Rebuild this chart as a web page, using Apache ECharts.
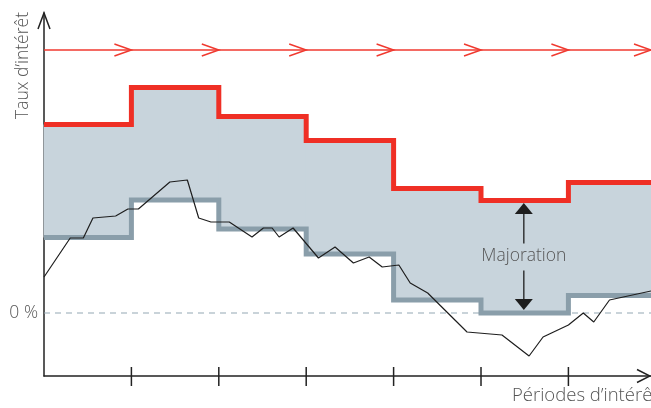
<!DOCTYPE html>
<html>
<head>
<meta charset="utf-8">
<script src="https://cdn.jsdelivr.net/npm/echarts@6/dist/echarts.min.js"></script>
<style>
html,body{margin:0;padding:0;background:#fff;}
#chart{width:651px;height:408px;}
</style>
</head>
<body>
<div id="chart"></div>
<script>
// ---- data ----
const periodStarts = [0, 1, 2, 3, 4, 5, 6];
const periodEnd = 6.945;
const upperRate = [3.77, 4.51, 3.93, 3.45, 2.49, 2.25, 2.61];
const lowerRate = [1.51, 2.26, 1.68, 1.18, 0.26, 0.00, 0.35];
const marketX = [0, 0.30, 0.45, 0.56, 0.82, 0.96, 1.08, 1.44, 1.64, 1.77, 1.91, 2.12, 2.38, 2.51, 2.61, 2.69, 2.85, 3.14, 3.33, 3.54, 3.72, 3.87, 4.06, 4.19, 4.39, 4.84, 5.24, 5.55, 5.71, 6.00, 6.17, 6.29, 6.47, 6.945];
const marketY = [0.72, 1.50, 1.50, 1.90, 1.94, 2.08, 2.08, 2.62, 2.66, 1.90, 1.82, 1.82, 1.52, 1.70, 1.70, 1.52, 1.70, 1.10, 1.32, 1.00, 1.12, 0.92, 0.96, 0.60, 0.40, -0.38, -0.44, -0.86, -0.48, -0.24, 0.00, -0.18, 0.26, 0.44];
const arrowTips = [1, 2, 3, 4, 5, 6, 6.945];
const arrowLevel = 5.26;
const tickPositions = [1, 2, 3, 4, 5, 6];
const yMin = -1.26, yMax = 6.0;
const zeroLabel = '0 %';
const majorationX = 5.49;
const majorationIndex = 5;
const majorationText = 'Majoration';
const xName = 'Périodes d’intérêt';
const yName = 'Taux d’intérêt';

// ---- build ----
function stepData(vals) {
  const d = periodStarts.map((x, i) => [x, vals[i]]);
  d.push([periodEnd, vals[vals.length - 1]]);
  return d;
}
const lowerData = stepData(lowerRate);
const upperData = stepData(upperRate);
const bandData = periodStarts.map((x, i) => [x, i + 1 < periodStarts.length ? periodStarts[i + 1] : periodEnd, upperRate[i], lowerRate[i]]);
const marketData = marketX.map((x, i) => [x, marketY[i]]);

const FONT = '"Open Sans"';
const TXT = '#555';
const FS = '300 17.5px ' + FONT;

const chart = echarts.init(document.getElementById('chart'), null, {renderer: 'canvas'});
chart.setOption({
  animation: false,
  grid: {left: 44, right: 0, top: 13, bottom: 32},
  xAxis: {
    type: 'value', min: 0, max: periodEnd,
    axisLine: {show: true, onZero: false, lineStyle: {color: '#222', width: 1.5}},
    axisTick: {show: false}, axisLabel: {show: false}, splitLine: {show: false}
  },
  yAxis: {
    type: 'value', min: yMin, max: yMax,
    axisLine: {show: true, onZero: false, lineStyle: {color: '#222', width: 1.5}},
    axisTick: {show: false}, axisLabel: {show: false}, splitLine: {show: false}
  },
  graphic: [
    {type: 'text', left: 512, top: 386, style: {text: xName, font: '300 18.5px ' + FONT, fill: TXT}},
    {type: 'text', left: 14, top: 12, rotation: Math.PI / 2,
     style: {text: yName, font: FS, fill: TXT}}
  ],
  series: [
    {type: 'custom', name: 'band', z: 1, silent: true,
     encode: {x: [0, 1], y: [2, 3]},
     data: bandData,
     renderItem: function (params, api) {
       const a = api.coord([api.value(0), api.value(2)]);
       const b = api.coord([api.value(1), api.value(3)]);
       return {type: 'rect', shape: {x: a[0] - 0.5, y: a[1], width: b[0] - a[0] + 1, height: b[1] - a[1]},
         style: {fill: '#c8d4dc'}};
     }},
    {type: 'line', name: 'zero', data: [[0, 0], [periodEnd, 0]], symbol: 'none',
     lineStyle: {color: '#93a7b4', width: 1.2, type: [6, 5]}, z: 2},
    {type: 'line', name: 'lower', data: lowerData, step: 'end', symbol: 'none',
     lineStyle: {color: '#8a9eaa', width: 5, join: 'miter', cap: 'butt'}, z: 3},
    {type: 'line', name: 'market', data: marketData, symbol: 'none',
     lineStyle: {color: '#1e1e1e', width: 1.2}, z: 4},
    {type: 'line', name: 'upper', data: upperData, step: 'end', symbol: 'none',
     lineStyle: {color: '#ef2f25', width: 5, join: 'miter', cap: 'butt'}, z: 5},
    {type: 'line', name: 'arrowLine', data: [[0, arrowLevel], [periodEnd, arrowLevel]], symbol: 'none',
     lineStyle: {color: '#f0392f', width: 1.5}, z: 5},
    {type: 'custom', name: 'arrowHeads', clip: false, z: 6,
     data: arrowTips.map(x => [x, arrowLevel]),
     renderItem: function (params, api) {
       const p = api.coord([api.value(0), api.value(1)]);
       return {type: 'polyline', shape: {points: [[p[0] - 17, p[1] - 6], [p[0], p[1]], [p[0] - 17, p[1] + 6]]},
         style: {stroke: '#f0392f', lineWidth: 1.5, fill: null}};
     }},
    {type: 'custom', name: 'ticks', clip: false, z: 6,
     data: tickPositions.map(x => [x, yMin]),
     renderItem: function (params, api) {
       const p = api.coord([api.value(0), api.value(1)]);
       return {type: 'line', shape: {x1: p[0], y1: p[1] - 9, x2: p[0], y2: p[1] + 10},
         style: {stroke: '#222', lineWidth: 1.5}};
     }},
    {type: 'custom', name: 'axisArrows', clip: false, z: 6,
     data: [[0, yMax, 0], [periodEnd, yMin, 1]],
     renderItem: function (params, api) {
       const p = api.coord([api.value(0), api.value(1)]);
       const pts = api.value(2) === 0
         ? [[p[0] - 6, p[1] + 16], [p[0], p[1]], [p[0] + 6, p[1] + 16]]
         : [[p[0] - 14, p[1] - 6.5], [p[0] - 1, p[1]], [p[0] - 14, p[1] + 6.5]];
       return {type: 'polyline', shape: {points: pts}, style: {stroke: '#222', lineWidth: 1.5, fill: null}};
     }},
    {type: 'custom', name: 'zeroLabel', clip: false, z: 6,
     data: [[0, 0]],
     renderItem: function (params, api) {
       const p = api.coord([api.value(0), api.value(1)]);
       return {type: 'text', x: p[0] - 6, y: p[1],
         style: {text: zeroLabel, font: FS, fill: TXT, align: 'right', verticalAlign: 'middle'}};
     }},
    {type: 'custom', name: 'majoration', clip: false, z: 7,
     data: [[majorationX, upperRate[majorationIndex], lowerRate[majorationIndex]]],
     renderItem: function (params, api) {
       const x = api.coord([api.value(0), api.value(1)])[0];
       const top = api.coord([api.value(0), api.value(1)])[1] + 2.5;
       const bot = api.coord([api.value(0), api.value(2)])[1] - 3;
       const mid = (top + bot) / 2;
       const col = '#1e1e1e';
       return {type: 'group', children: [
         {type: 'polygon', shape: {points: [[x, top], [x - 9, top + 11], [x + 9, top + 11]]}, style: {fill: col}},
         {type: 'polygon', shape: {points: [[x, bot], [x - 9, bot - 11], [x + 9, bot - 11]]}, style: {fill: col}},
         {type: 'line', shape: {x1: x, y1: top + 10, x2: x, y2: mid - 13}, style: {stroke: col, lineWidth: 1.3}},
         {type: 'line', shape: {x1: x, y1: mid + 14, x2: x, y2: bot - 10}, style: {stroke: col, lineWidth: 1.3}},
         {type: 'text', x: x, y: mid, style: {text: majorationText, font: FS, fill: TXT, align: 'center', verticalAlign: 'middle'}}
       ]};
     }}
  ]
});
</script>
</body>
</html>
